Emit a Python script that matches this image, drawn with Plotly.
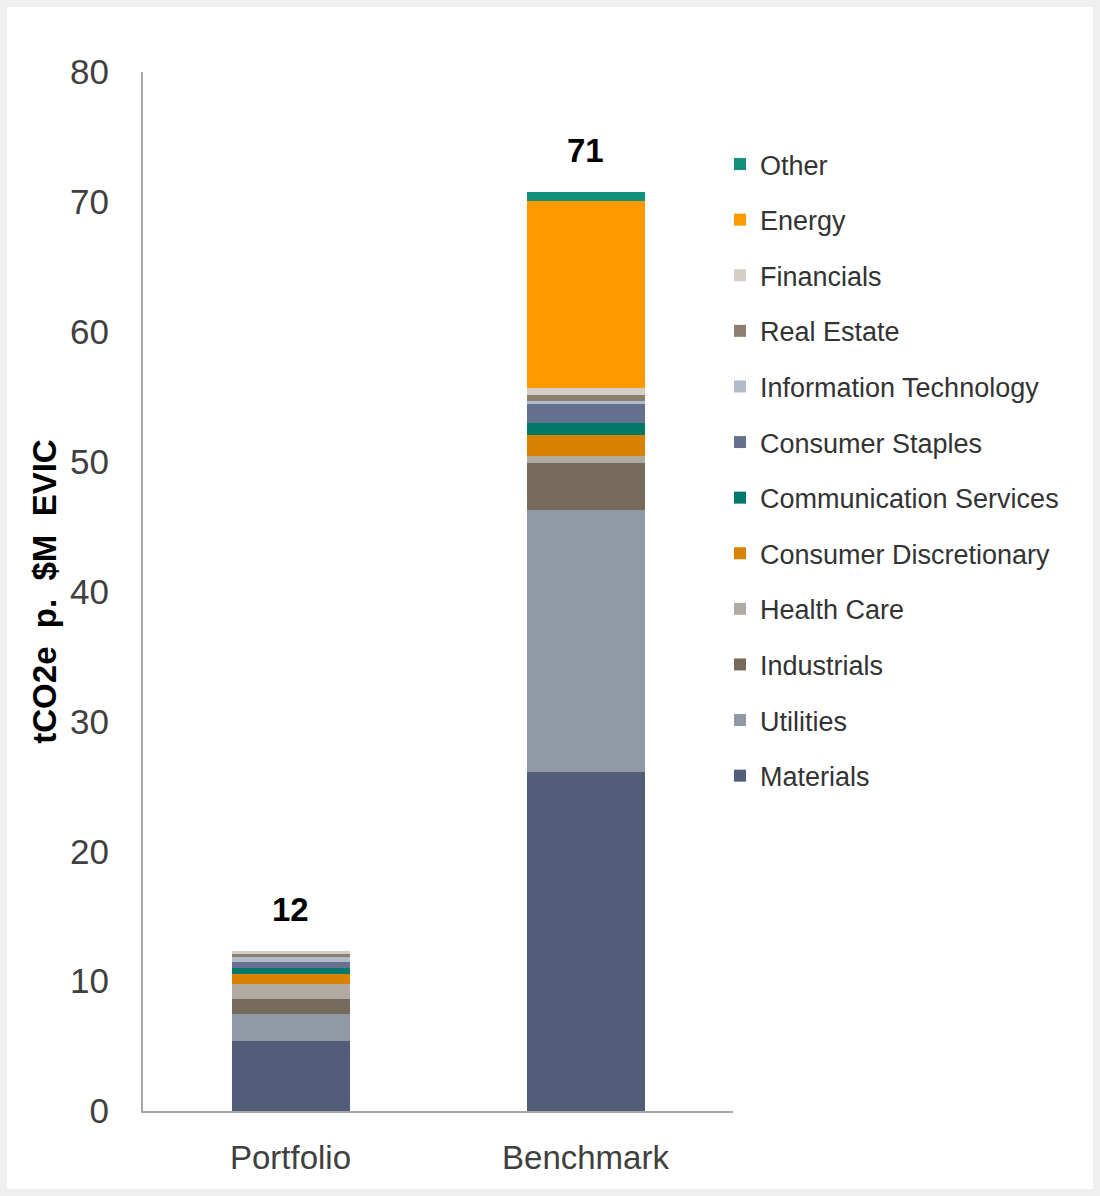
import plotly.graph_objects as go

categories = ["Portfolio", "Benchmark"]

sectors = ["Materials", "Utilities", "Industrials", "Health Care",
           "Consumer Discretionary", "Communication Services", "Consumer Staples",
           "Information Technology", "Real Estate", "Financials", "Energy", "Other"]

materials = [5.4, 26.1]
utilities = [2.1, 20.2]
industrials = [1.15, 3.6]
health_care = [1.15, 0.55]
consumer_discretionary = [0.77, 1.6]
communication_services = [0.46, 0.95]
consumer_staples = [0.44, 1.45]
information_technology = [0.38, 0.2]
real_estate = [0.26, 0.5]
financials = [0.2, 0.5]
energy = [0.0, 14.4]
other = [0.0, 0.7]

series = [materials, utilities, industrials, health_care, consumer_discretionary,
          communication_services, consumer_staples, information_technology,
          real_estate, financials, energy, other]

colors = ["#525d7a", "#9199a7", "#756a5c", "#b0aaa3", "#d98200", "#00786a",
          "#66718f", "#b2bacb", "#8c7f70", "#d4cec6", "#ff9900", "#12907e"]

FONT = "Liberation Sans, Arial, sans-serif"

fig = go.Figure()
n = len(sectors)
for i, (name, vals, col) in enumerate(zip(sectors, series, colors)):
    fig.add_trace(go.Bar(x=categories, y=vals, name=name, marker_color=col,
                         marker_line_width=0, legendgroup=name,
                         legendrank=1000 + (n - i)))

totals = [sum(s[i] for s in series) for i in range(len(categories))]
for cat, tot in zip(categories, totals):
    fig.add_annotation(x=cat, y=tot, text=f"<b>{round(tot)}</b>", showarrow=False,
                       yshift=42, font=dict(family=FONT, size=33, color="#000000"))

# light grey frame around the page
fig.add_shape(type="rect", xref="paper", yref="paper",
              x0=(3.5 - 143) / 590, x1=(1096.5 - 143) / 590,
              y0=(1111 - 1192.5) / 1039, y1=(1111 - 3.5) / 1039,
              line=dict(color="#efefef", width=7), fillcolor="rgba(0,0,0,0)", layer="below")

fig.update_layout(
    width=1100, height=1196,
    margin=dict(l=143, r=367, t=72, b=85),
    barmode="stack", bargap=0.6,
    paper_bgcolor="white", plot_bgcolor="white",
    font=dict(family=FONT, color="#404040"),
    showlegend=True,
    legend=dict(x=0.978, y=(1111 - 140) / 1039, xanchor="left", yanchor="top",
                traceorder="grouped", tracegroupgap=17.5,
                font=dict(family=FONT, size=27, color="#333333"),
                itemwidth=30, bgcolor="rgba(0,0,0,0)"),
    xaxis=dict(showline=True, linecolor="#a6a6a6", linewidth=2, ticks="outside",
               ticklen=16, tickcolor="rgba(0,0,0,0)",
               tickfont=dict(family=FONT, size=33, color="#404040"), showgrid=False),
    yaxis=dict(range=[0, 80], dtick=10, showline=True, linecolor="#a6a6a6", linewidth=2,
               ticks="outside", ticklen=25, tickcolor="rgba(0,0,0,0)", showgrid=False,
               zeroline=False,
               tickfont=dict(family=FONT, size=35, color="#404040"),
               title=dict(text="<b>tCO2e  p.  $M  EVIC</b>", standoff=4,
                          font=dict(family=FONT, size=33, color="#000000"))),
)

fig.write_html("out.html", config={"displayModeBar": False},
               post_script="document.body.style.margin='0';")
